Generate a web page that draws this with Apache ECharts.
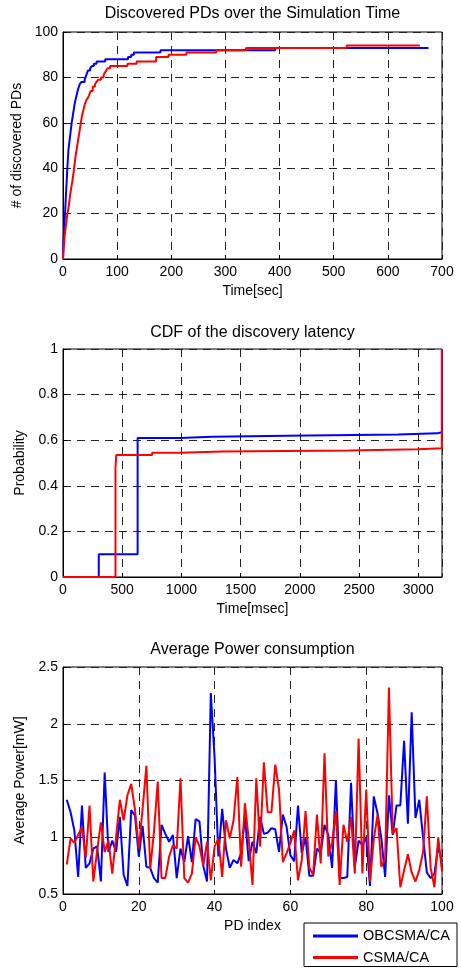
<!DOCTYPE html>
<html><head><meta charset="utf-8">
<script src="https://cdn.jsdelivr.net/npm/echarts@6/dist/echarts.min.js"></script>
<style>html,body{margin:0;padding:0;background:#fff}#c{width:461px;height:968px}</style>
</head><body><div id="c"></div>
<script>
// ---- Chart 1: Discovered PDs over the Simulation Time ----
const obTime  = [0,0.5,1,2,3,4,5,6,7,8,9,10,11,12,13,14,15,16,18,20,22,24,26,28,31,34,40,43,46,50,53,57,62,78,120,126,131,180,392,675];
const obCount = [0,4,8,13,17,21,26,31,35,40,44,48,50,52,54,56,58,60,63,66,69,71,73,75,77,78,79,81,83,84,85,86,87,88,89,90,91,92,93,93];
const csTime  = [0,1,2,3,4,5,6,7,9,11,13,15,17,19,21,23,25,27,29,31,33,35,37,40,43,46,48,51,55,59,62,65,70,75,77,80,82,87,119,136,172,195,228,283,338,524,659];
const csCount = [0,4,7,10,12,14,16,18,21,24,28,31,34,37,41,45,48,51,54,57,60,63,65,68,70,71,72,74,76,77,78,79,80,81,82,83,84,85,86,87,89,90,91,92,93,94,94];

// ---- Chart 2: CDF of the discovery latency ----
const obLatTime = [0,302,630,990,1260,1890,2830,3160,3200];
const obLatProb = [0,0.1,0.61,0.615,0.62,0.625,0.63,0.635,1.0];
const csLatTime = [0,443,450,753,992,1345,2416,2994,3198];
const csLatProb = [0,0.48,0.535,0.545,0.55,0.555,0.56,0.565,1.0];

// ---- Chart 3: Average Power consumption (PD index 1..100) ----
const obPower = [1.33,1.22,1.06,0.65,1.28,0.73,0.77,0.90,0.92,0.61,
1.57,0.87,0.97,0.87,1.18,0.67,0.57,1.24,1.19,0.83,
1.10,0.74,0.73,0.64,0.60,1.11,1.03,0.96,1.02,0.64,
0.90,0.78,1.01,0.78,1.16,1.14,0.75,0.61,2.27,1.70,
0.83,1.25,0.90,0.73,0.80,0.77,0.86,1.18,0.79,0.96,
0.86,1.18,1.03,1.04,1.08,1.07,0.87,1.20,1.09,0.84,
0.79,1.28,0.86,1.00,0.66,0.66,0.90,0.86,1.11,1.02,
0.73,1.50,0.64,0.64,0.65,1.48,0.74,0.97,0.93,1.00,
0.57,1.36,1.21,0.99,0.65,1.37,1.02,1.28,1.28,1.85,
1.12,2.10,1.17,1.33,1.00,0.69,0.64,0.68,0.92,0.78];
const csPower = [0.76,0.99,0.95,1.02,1.09,0.82,1.28,0.61,0.88,1.13,
0.87,0.97,0.68,1.00,1.33,1.15,1.37,1.47,1.24,0.90,
1.25,1.63,0.72,1.05,1.49,0.64,0.64,0.83,0.93,0.90,
1.52,0.64,0.60,0.68,1.00,0.92,0.75,0.96,0.62,0.92,
0.99,0.65,1.15,0.99,1.15,1.53,0.74,1.30,0.98,0.58,
1.52,0.92,1.66,1.22,1.22,1.64,1.42,0.78,0.86,0.95,
1.06,0.62,0.80,1.23,0.73,0.67,1.20,0.77,1.74,0.83,
0.95,1.23,0.58,1.11,0.96,1.18,0.68,1.87,0.68,1.42,
0.61,0.98,1.20,0.74,0.81,2.32,1.03,1.08,0.56,0.71,
0.85,0.69,0.61,0.71,0.87,1.36,0.73,0.56,1.00,0.70];

const seriesNames = ['OBCSMA/CA','CSMA/CA'];
const colors = ['#0000ff','#ff0000'];
const titles = ['Discovered PDs over the Simulation Time','CDF of the discovery latency','Average Power consumption'];
const xNames = ['Time[sec]','Time[msec]','PD index'];
const yNames = ['# of discovered PDs','Probability','Average Power[mW]'];

const FONT = "'Liberation Sans', Arial, Helvetica, sans-serif";
const zip = (a,b) => a.map((v,i)=>[v,b[i]]);

const grids = [
  {left:63, top:32, width:379, height:227},
  {left:63, top:349, width:379, height:228},
  {left:63, top:667, width:379, height:227}
].map(g => Object.assign(g, {show:true, borderColor:'#000', borderWidth:1, backgroundColor:'#fff'}));

const split = {show:true, lineStyle:{color:'#222', width:1, type:[8,6]}};
const plain = v => String(v);
function xAx(i, min, max, interval, showMax) {
  return {
    gridIndex:i, type:'value', min, max, interval,
    name:xNames[i], nameLocation:'middle', nameGap:25,
    nameTextStyle:{fontSize:14, color:'#000', fontFamily:FONT},
    axisLine:{show:true, lineStyle:{color:'#000', width:1}},
    axisTick:{show:true, inside:true, length:4, lineStyle:{color:'#000'}},
    axisLabel:{fontSize:14, color:'#000', fontFamily:FONT, margin:6, formatter:plain, showMaxLabel:showMax},
    splitLine:split
  };
}
function yAx(i, min, max, interval) {
  return {
    gridIndex:i, type:'value', min, max, interval,
    name:yNames[i], nameLocation:'middle', nameGap:33,
    nameTextStyle:{fontSize:14, color:'#000', fontFamily:FONT},
    axisLine:{show:true, lineStyle:{color:'#000', width:1}},
    axisTick:{show:true, inside:true, length:4, lineStyle:{color:'#000'}},
    axisLabel:{fontSize:14, color:'#000', fontFamily:FONT, margin:5, formatter:plain},
    splitLine:split
  };
}
const titleTops = [6, 325, 642];
function line(name, i, data, step) {
  const k = seriesNames.indexOf(name);
  return {name, type:'line', xAxisIndex:i, yAxisIndex:i, data, step:step||false,
    showSymbol:false, symbol:'none', color:colors[k],
    lineStyle:{color:colors[k], width:2}, animation:false};
}

const chart = echarts.init(document.getElementById('c'), null, {renderer:'canvas'});
chart.setOption({
  animation:false,
  backgroundColor:'#fff',
  title: titles.map((t,i)=>({text:t, left:252.5, top:titleTops[i], textAlign:'center', padding:0,
    textStyle:{fontSize:16, fontWeight:'normal', color:'#000', fontFamily:FONT}})),
  grid: grids,
  xAxis: [
    xAx(0, 0, 700, 100, true),
    xAx(1, 0, 3200, 500, false),
    xAx(2, 0, 100, 20, true)
  ],
  yAxis: [ yAx(0, 0, 100, 20), yAx(1, 0, 1, 0.2), yAx(2, 0.5, 2.5, 0.5) ],
  legend: {
    left:304, top:923, orient:'vertical', padding:[5,7,1,9], itemGap:5.5,
    itemWidth:45, itemHeight:3, borderColor:'#000', borderWidth:1, borderRadius:0,
    backgroundColor:'#fff',
    textStyle:{fontSize:14.5, color:'#000', fontFamily:FONT, lineHeight:16},
    data: seriesNames.map(n=>({name:n, icon:'rect'}))
  },
  series: [
    line('OBCSMA/CA', 0, zip(obTime, obCount), 'end'),
    line('CSMA/CA', 0, zip(csTime, csCount), 'end'),
    line('OBCSMA/CA', 1, zip(obLatTime, obLatProb), 'end'),
    line('CSMA/CA', 1, zip(csLatTime, csLatProb), 'end'),
    line('OBCSMA/CA', 2, obPower.map((v,i)=>[i+1, v])),
    line('CSMA/CA', 2, csPower.map((v,i)=>[i+1, v]))
  ]
});
</script>
</body></html>
